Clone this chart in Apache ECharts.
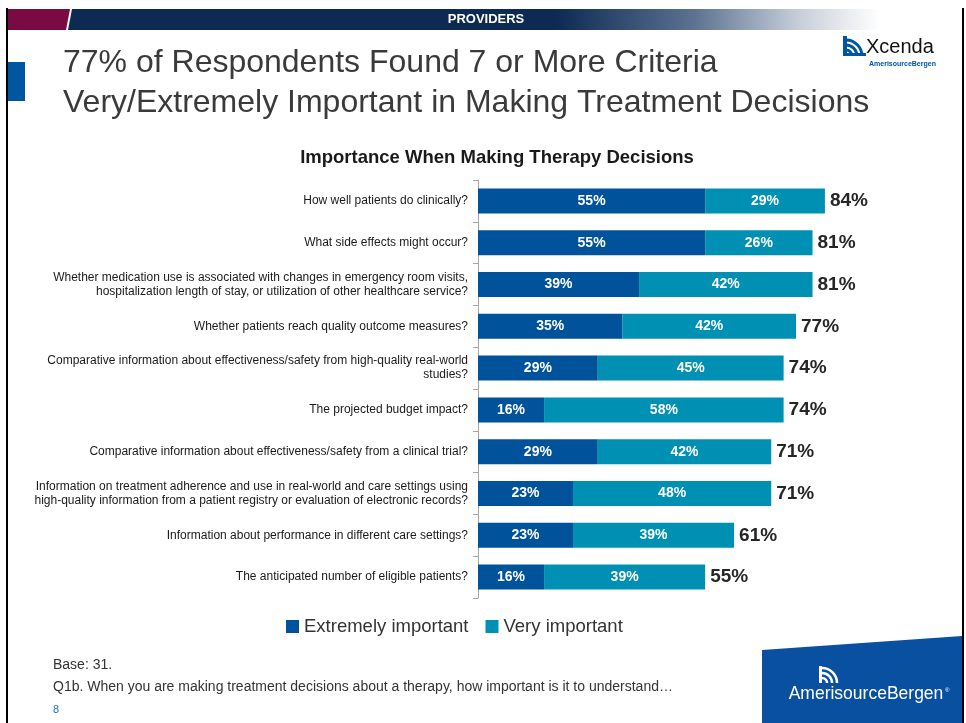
<!DOCTYPE html>
<html>
<head>
<meta charset="utf-8">
<script src="https://cdn.jsdelivr.net/npm/echarts@6/dist/echarts.min.js"></script>
<style>
  html, body { margin: 0; padding: 0; background: #fff; }
  #chart { width: 966px; height: 723px; }
</style>
</head>
<body>
<div id="chart"></div>
<script>
// Survey criteria, top to bottom
const categories = [
  'How well patients do clinically?',
  'What side effects might occur?',
  'Whether medication use is associated with changes in emergency room visits,\nhospitalization length of stay, or utilization of other healthcare service?',
  'Whether patients reach quality outcome measures?',
  'Comparative information about effectiveness/safety from high-quality real-world\nstudies?',
  'The projected budget impact?',
  'Comparative information about effectiveness/safety from a clinical trial?',
  'Information on treatment adherence and use in real-world and care settings using\nhigh-quality information from a patient registry or evaluation of electronic records?',
  'Information about performance in different care settings?',
  'The anticipated number of eligible patients?'
];
const extremelyImportant = [55, 55, 39, 35, 29, 16, 29, 23, 23, 16];
const veryImportant      = [29, 26, 42, 42, 45, 58, 42, 48, 39, 39];
// Net (very + extremely) shown at the end of each bar
const netImportant       = [84, 81, 81, 77, 74, 74, 71, 71, 61, 55];

const FONT = '"Liberation Sans", Arial, sans-serif';
const DARK_BLUE = '#00529b';
const TEAL = '#0090b3';

const chart = echarts.init(document.getElementById('chart'));

chart.setOption({
  animation: false,
  backgroundColor: '#ffffff',
  textStyle: { fontFamily: FONT },
  legend: {
    data: ['Extremely important', 'Very important'],
    left: 281, top: 612,
    icon: 'rect', itemWidth: 13, itemHeight: 13, itemGap: 17,
    textStyle: { fontFamily: FONT, fontSize: 18.5, color: '#333' }
  },
  grid: { left: 478, right: 75, top: 180, bottom: 125, containLabel: false },
  xAxis: {
    type: 'value', min: 0, max: 100, show: false
  },
  yAxis: {
    type: 'category', inverse: true, data: categories,
    axisLine: { show: true, lineStyle: { color: '#a6a6a6' } },
    axisTick: { show: true, length: 5, lineStyle: { color: '#a6a6a6' } },
    axisLabel: {
      margin: 10, fontFamily: FONT, fontSize: 12, color: '#1a1a1a',
      lineHeight: 14, align: 'right'
    }
  },
  series: [
    {
      name: 'Extremely important', type: 'bar', stack: 'total',
      data: extremelyImportant, barWidth: 25,
      itemStyle: { color: DARK_BLUE },
      label: {
        show: true, position: 'inside', formatter: '{c}%',
        color: '#fff', fontFamily: FONT, fontSize: 14, fontWeight: 'bold'
      }
    },
    {
      name: 'Very important', type: 'bar', stack: 'total',
      data: veryImportant, barWidth: 25,
      itemStyle: { color: TEAL },
      label: {
        show: true, position: 'inside', formatter: '{c}%',
        color: '#fff', fontFamily: FONT, fontSize: 14, fontWeight: 'bold'
      }
    },
    {
      // zero-width helper series carrying the net label at the end of each stack
      name: 'Net', type: 'bar', stack: 'total',
      data: netImportant.map(() => 0), barWidth: 25,
      itemStyle: { color: 'transparent' },
      label: {
        show: true, position: 'right', distance: 5,
        formatter: p => netImportant[p.dataIndex] + '%',
        color: '#262626', fontFamily: FONT, fontSize: 19, fontWeight: 'bold'
      },
      tooltip: { show: false }
    }
  ],
  graphic: [
    // frame
    { type: 'rect', shape: { x: 6, y: 8, width: 2, height: 715 }, style: { fill: '#000' } },
    { type: 'rect', shape: { x: 962, y: 8, width: 2, height: 715 }, style: { fill: '#000' } },
    // header band
    { type: 'polygon', shape: { points: [[8, 9], [70, 9], [66, 30], [8, 30]] }, style: { fill: '#7a0a42' } },
    {
      type: 'polygon', shape: { points: [[72, 9], [880, 9], [880, 30], [68, 30]] },
      style: {
        fill: new echarts.graphic.LinearGradient(0, 0, 1, 0, [
          { offset: 0, color: '#0c2a52' },
          { offset: 0.6, color: '#0c2a52' },
          { offset: 0.77, color: '#5b7290' },
          { offset: 0.9, color: '#c7ced9' },
          { offset: 1, color: '#ffffff' }
        ])
      }
    },
    {
      type: 'text',
      style: { x: 486, y: 19, text: 'PROVIDERS', fill: '#fff', font: 'bold 13px ' + FONT, textAlign: 'center', textVerticalAlign: 'middle' }
    },
    // chart heading
    {
      type: 'text',
      style: { x: 497, y: 158, text: 'Importance When Making Therapy Decisions', fill: '#1a1a1a', font: 'bold 18.5px ' + FONT, textAlign: 'center', textVerticalAlign: 'middle' }
    },
    // slide title
    { type: 'rect', shape: { x: 8, y: 62, width: 17, height: 39 }, style: { fill: '#0055a0' } },
    {
      type: 'text',
      style: {
        x: 63, y: 63,
        text: '77% of Respondents Found 7 or More Criteria',
        fill: '#3a3a3a', font: '32px ' + FONT, textVerticalAlign: 'middle'
      }
    },
    {
      type: 'text',
      style: {
        x: 63, y: 103,
        text: 'Very/Extremely Important in Making Treatment Decisions',
        fill: '#3a3a3a', font: '32px ' + FONT, textVerticalAlign: 'middle'
      }
    },
    // Xcenda logo
    { type: 'arc', shape: { cx: 846, cy: 56, r: 6, startAngle: -Math.PI / 2, endAngle: 0 }, style: { stroke: '#0055a0', lineWidth: 3, fill: null } },
    { type: 'arc', shape: { cx: 846, cy: 56, r: 11, startAngle: -Math.PI / 2, endAngle: 0 }, style: { stroke: '#0055a0', lineWidth: 3, fill: null } },
    { type: 'arc', shape: { cx: 846, cy: 56, r: 16, startAngle: -Math.PI / 2, endAngle: 0 }, style: { stroke: '#0055a0', lineWidth: 3, fill: null } },
    { type: 'rect', shape: { x: 843, y: 36, width: 4, height: 20 }, style: { fill: '#0055a0' } },
    { type: 'rect', shape: { x: 843, y: 53, width: 23, height: 3 }, style: { fill: '#0055a0' } },
    {
      type: 'text',
      style: { x: 866, y: 47, text: 'Xcenda', fill: '#111', font: '20px ' + FONT, textVerticalAlign: 'middle' }
    },
    {
      type: 'text',
      style: { x: 869, y: 64, text: 'AmerisourceBergen', fill: '#0055a0', font: 'bold 7px ' + FONT, textVerticalAlign: 'middle' }
    },
    // footnotes
    {
      type: 'text',
      style: { x: 53, y: 665, text: 'Base: 31.', fill: '#333', font: '14px ' + FONT, textVerticalAlign: 'middle' }
    },
    {
      type: 'text',
      style: { x: 53, y: 687, text: 'Q1b. When you are making treatment decisions about a therapy, how important is it to understand…', fill: '#333', font: '14px ' + FONT, textVerticalAlign: 'middle' }
    },
    {
      type: 'text',
      style: { x: 53, y: 710, text: '8', fill: '#1f6fc0', font: '11px ' + FONT, textVerticalAlign: 'middle' }
    },
    // AmerisourceBergen badge
    { type: 'polygon', shape: { points: [[762, 650], [962, 636], [962, 723], [762, 723]] }, style: { fill: '#0a50a0' } },
    { type: 'arc', shape: { cx: 822, cy: 683, r: 5, startAngle: -Math.PI / 2, endAngle: 0 }, style: { stroke: '#fff', lineWidth: 2.5, fill: null } },
    { type: 'arc', shape: { cx: 822, cy: 683, r: 10, startAngle: -Math.PI / 2, endAngle: 0 }, style: { stroke: '#fff', lineWidth: 2.5, fill: null } },
    { type: 'arc', shape: { cx: 822, cy: 683, r: 15, startAngle: -Math.PI / 2, endAngle: 0 }, style: { stroke: '#fff', lineWidth: 2.5, fill: null } },
    { type: 'rect', shape: { x: 819, y: 666, width: 3, height: 17 }, style: { fill: '#fff' } },
    {
      type: 'text',
      style: { x: 866, y: 694, text: 'AmerisourceBergen', fill: '#fff', font: '17.5px ' + FONT, textAlign: 'center', textVerticalAlign: 'middle' }
    },
    {
      type: 'text',
      style: { x: 945, y: 690, text: '®', fill: '#fff', font: '6px ' + FONT, textVerticalAlign: 'middle' }
    }
  ]
});
</script>
</body>
</html>
